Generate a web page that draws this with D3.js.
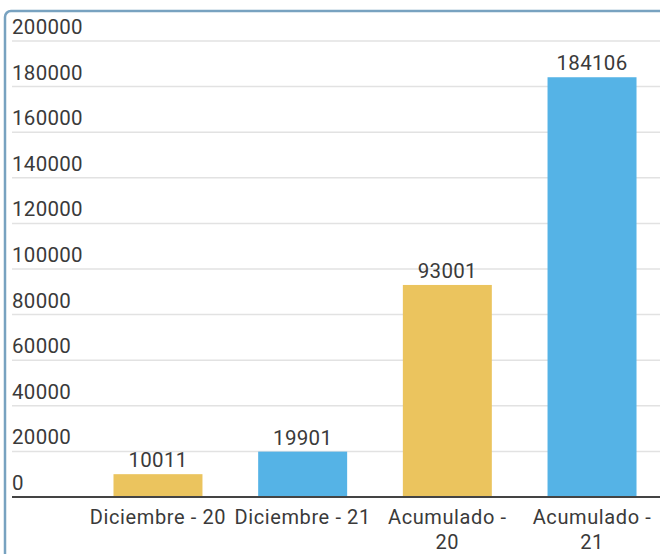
<!DOCTYPE html>
<html>
<head>
<meta charset="utf-8">
<script src="https://cdn.jsdelivr.net/npm/d3@7/dist/d3.min.js"></script>
<style>
  body { margin: 0; background: #fff; }
  svg { display: block; font-family: Roboto, sans-serif; }
</style>
</head>
<body>
<svg id="vis" width="660" height="554"></svg>
<script>
var categories = ["Diciembre - 20", "Diciembre - 21", "Acumulado - 20", "Acumulado - 21"];
var values = [10011, 19901, 93001, 184106];
var barColors = ["#ebc45e", "#55b3e6", "#ebc45e", "#55b3e6"];
var yTicks = [0, 20000, 40000, 60000, 80000, 100000, 120000, 140000, 160000, 180000, 200000];

var svg = d3.select("#vis");

// frame around the chart
svg.append("rect")
   .attr("x", 5).attr("y", 11)
   .attr("width", 700).attr("height", 600)
   .attr("rx", 6)
   .attr("fill", "none")
   .attr("stroke", "#78a2c0")
   .attr("stroke-width", 2.5);

var x = d3.scaleBand().domain(categories).range([86, 664]).paddingInner(0.385).paddingOuter(0.19);
var y = d3.scaleLinear().domain([0, 200000]).range([497, 41]);

// gridlines + tick labels
var grid = svg.append("g");
grid.selectAll("line")
    .data(yTicks.filter(d => d > 0))
    .enter()
    .append("line")
    .attr("x1", 12).attr("x2", 660)
    .attr("y1", d => y(d)).attr("y2", d => y(d))
    .attr("stroke", "#e2e2e2")
    .attr("stroke-width", 1.5);
grid.selectAll("text")
    .data(yTicks)
    .enter()
    .append("text")
    .attr("x", 12)
    .attr("y", d => y(d) - 7)
    .attr("fill", "#3a3a3a")
    .style("font-size", "20.5px")
    .style("letter-spacing", "0.3px")
    .text(d => d);

// bars
svg.selectAll("rect.bar")
   .data(values)
   .enter()
   .append("rect")
   .attr("class", "bar")
   .attr("x", (d, i) => x(categories[i]))
   .attr("width", x.bandwidth())
   .attr("y", d => y(d))
   .attr("height", d => y(0) - y(d))
   .attr("fill", (d, i) => barColors[i]);

// value labels
svg.selectAll("text.val")
   .data(values)
   .enter()
   .append("text")
   .attr("class", "val")
   .attr("x", (d, i) => x(categories[i]) + x.bandwidth() / 2)
   .attr("y", d => y(d) - 7)
   .attr("text-anchor", "middle")
   .attr("fill", "#3a3a3a")
   .style("font-size", "20.5px")
   .style("letter-spacing", "0.3px")
   .text(d => d);

// baseline
svg.append("line")
   .attr("x1", 12).attr("x2", 660)
   .attr("y1", y(0)).attr("y2", y(0))
   .attr("stroke", "#444")
   .attr("stroke-width", 2);

// category labels, wrapped when too wide
var maxW = 142;
function catLabel(c, yy, txt) {
	return svg.append("text")
	          .attr("x", x(c) + x.bandwidth() / 2)
	          .attr("y", yy)
	          .attr("text-anchor", "middle")
	          .attr("fill", "#3a3a3a")
	          .style("font-size", "20px")
	          .style("letter-spacing", "0.6px")
	          .text(txt);
}
categories.forEach(function(c) {
	var t = catLabel(c, 524, c);
	if (t.node().getComputedTextLength() > maxW) {
		var words = c.split(" ");
		var last = words.pop();
		t.text(words.join(" "));
		catLabel(c, 549, last);
	}
});
</script>
</body>
</html>
